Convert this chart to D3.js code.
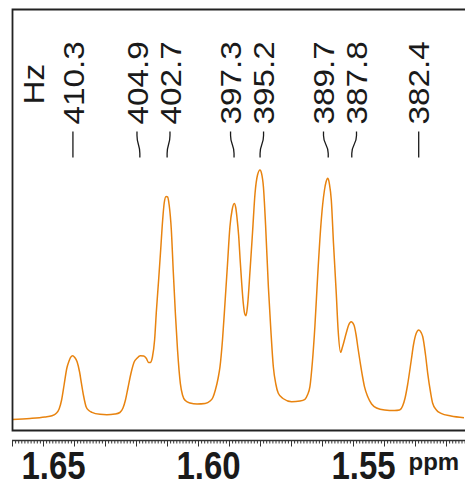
<!DOCTYPE html>
<html>
<head>
<meta charset="utf-8">
<script src="https://cdn.jsdelivr.net/npm/d3@7"></script>
<style>
  html, body { margin: 0; padding: 0; background: #fff; }
  svg { display: block; }
  text { font-family: "Liberation Sans", Arial, Helvetica, sans-serif; fill: #1a1a1a; }
</style>
</head>
<body>
<svg id="chart" width="465" height="480"></svg>
<script>
// ---- data ----
// chemical shift (ppm) of curve sample points
const specPpm = [1.6600,1.6542,1.6494,1.6471,1.6458,1.6448,1.6440,1.6432,1.6423,1.6416,1.6411,1.6404,1.6398,1.6390,1.6382,1.6376,1.6369,1.6361,1.6352,1.6342,1.6316,1.6294,1.6268,1.6252,1.6242,1.6234,1.6226,1.6216,1.6206,1.6197,1.6186,1.6175,1.6167,1.6159,1.6154,1.6147,1.6140,1.6134,1.6127,1.6120,1.6114,1.6109,1.6103,1.6098,1.6093,1.6086,1.6080,1.6073,1.6066,1.6057,1.6050,1.6041,1.6026,1.6003,1.5977,1.5961,1.5952,1.5944,1.5935,1.5929,1.5921,1.5913,1.5905,1.5897,1.5890,1.5883,1.5878,1.5874,1.5869,1.5864,1.5859,1.5854,1.5849,1.5845,1.5840,1.5832,1.5824,1.5816,1.5808,1.5800,1.5795,1.5789,1.5782,1.5773,1.5765,1.5757,1.5749,1.5741,1.5726,1.5698,1.5671,1.5655,1.5647,1.5639,1.5631,1.5623,1.5614,1.5604,1.5598,1.5592,1.5587,1.5581,1.5576,1.5570,1.5563,1.5554,1.5548,1.5540,1.5534,1.5522,1.5514,1.5506,1.5497,1.5490,1.5484,1.5477,1.5469,1.5463,1.5452,1.5440,1.5424,1.5398,1.5366,1.5350,1.5340,1.5332,1.5324,1.5312,1.5305,1.5296,1.5288,1.5280,1.5275,1.5266,1.5259,1.5250,1.5243,1.5231,1.5216,1.5184,1.5142];
// intensity (arbitrary units) at those points
const specInt = [0.5,1.5,3.0,4.3,6.5,11,20,35,52,59,62.7,64.3,62.7,58.3,48,36.7,24,13.3,9.5,7.7,5.7,5.3,6,7.5,12,20,32,47,58,61.7,64.3,64,61.7,57.5,57.5,63,80,110,140,172,200,217,223.5,223,215,190,150,106.7,70,36.7,25,19.5,17,16,16.5,19,22.5,30,42,53.3,80,116.7,155,193.3,210,216.5,212,201.7,185,160,136.7,117,106,104.3,115,150,188,226.7,245,250,246.7,233.3,195,133.3,90,53.3,36,26.7,21.5,18.3,19,20.7,25,33.3,58,93.3,144,193.3,215,230,238,241.7,236,220,177,126.7,90,67.7,73,86.7,95,98.3,95,85,72,58,43,33.3,23,16,12,10,9.5,10,14,22,35,60,75,86.7,90,87.3,83.3,65,46.7,28,16.7,10,6.7,4,2.3];
// picked peaks (Hz) and spectrometer frequency (MHz)
const peakHz = [410.3, 404.9, 402.7, 397.3, 395.2, 389.7, 387.8, 382.4];
const specFreqMHz = 250.13;
// axis
const majorTicks = [1.65, 1.60, 1.55];
const axisUnit = "ppm";
const peakUnit = "Hz";

// ---- drawing ----
const W = 465, H = 480;
const svg = d3.select("#chart");
const frameL = 12.5, frameT = 9.5, frameB = 430.5;

const x = d3.scaleLinear().domain([1.65, 1.55]).range([43, 353]);
const y = d3.scaleLinear().domain([0, 250]).range([420, 170]);

svg.append("defs").append("clipPath").attr("id", "plotclip")
  .append("rect").attr("x", frameL).attr("y", frameT).attr("width", W - frameL).attr("height", frameB - frameT);

// spectrum
const pts = specPpm.map((p, i) => [p, specInt[i]]);
const line = d3.line().x(d => x(d[0])).y(d => y(d[1])).curve(d3.curveMonotoneX);
svg.append("path")
  .attr("clip-path", "url(#plotclip)")
  .attr("d", line(pts.slice().reverse()))
  .attr("fill", "none")
  .attr("stroke", "#E8830F")
  .attr("stroke-width", 1.5)
  .attr("stroke-linejoin", "round");

// frame (open on right)
svg.append("path")
  .attr("d", `M${W},${frameT}H${frameL}V${frameB}H${W}`)
  .attr("fill", "none")
  .attr("stroke", "#222")
  .attr("stroke-width", 1.8);

// ppm axis
const axisY = 440.5;
const dom = x.invert(12), dom2 = x.invert(W);
const minor = d3.range(Math.ceil(dom2 * 1000), Math.floor(dom * 1000) + 1).map(v => v / 1000);
const major = minor.filter(v => Math.round(v * 1000) % 10 === 0);
const gMinor = svg.append("g").attr("transform", `translate(0,${axisY})`)
  .call(d3.axisBottom(x).tickValues(minor).tickSize(3).tickSizeOuter(0).tickFormat(""));
const gMajor = svg.append("g").attr("transform", `translate(0,${axisY})`)
  .call(d3.axisBottom(x).tickValues(major).tickSize(6).tickSizeOuter(0).tickFormat(""));
[gMinor, gMajor].forEach(g => {
  g.select(".domain").remove();
  g.selectAll(".tick line").attr("stroke", "#333").attr("stroke-width", 1);
});
svg.append("line").attr("x1", 12).attr("x2", W).attr("y1", axisY).attr("y2", axisY)
  .attr("stroke", "#333").attr("stroke-width", 1.3);

svg.selectAll("text.ax").data(majorTicks).enter().append("text")
  .attr("class", "ax")
  .attr("transform", d => `translate(${x(d) + 10.5},478.5) scale(1,1.15)`)
  .attr("text-anchor", "middle")
  .attr("font-size", 33).attr("font-weight", "bold")
  .text(d => d3.format(".2f")(d));
svg.append("text").attr("x", 408.5).attr("y", 469.5)
  .attr("font-size", 24).attr("font-weight", "bold").text(axisUnit);

// peak labels
const peakX = peakHz.map(h => x(h / specFreqMHz));
const labX = peakX.slice();
const minGap = 33;
for (let it = 0; it < 50; it++) {
  for (let i = 0; i < labX.length - 1; i++) {
    const gap = labX[i + 1] - labX[i];
    if (gap < minGap) {
      const d = (minGap - gap) / 2;
      labX[i] -= d; labX[i + 1] += d;
    }
  }
}
const ltop = 131.5, lbot = 157.5;
svg.selectAll("path.lead").data(peakHz).enter().append("path")
  .attr("class", "lead")
  .attr("d", (d, i) => {
    const a = labX[i], b = peakX[i];
    return `M${a},${ltop}L${a},${ltop + 4}C${a},${ltop + 13} ${b},${lbot - 13} ${b},${lbot - 4}L${b},${lbot}`;
  })
  .attr("fill", "none").attr("stroke", "#1a1a1a").attr("stroke-width", 1.3);

svg.selectAll("text.pk").data(peakHz).enter().append("text")
  .attr("class", "pk")
  .attr("transform", (d, i) => `translate(${labX[i] + 10.75},124.5) rotate(-90) scale(1.11,1)`)
  .attr("font-size", 30)
  .text(d => d.toFixed(1));

svg.append("text")
  .attr("transform", `translate(44,104.5) rotate(-90) scale(1.11,1)`)
  .attr("font-size", 30)
  .text(peakUnit);
</script>
</body>
</html>
